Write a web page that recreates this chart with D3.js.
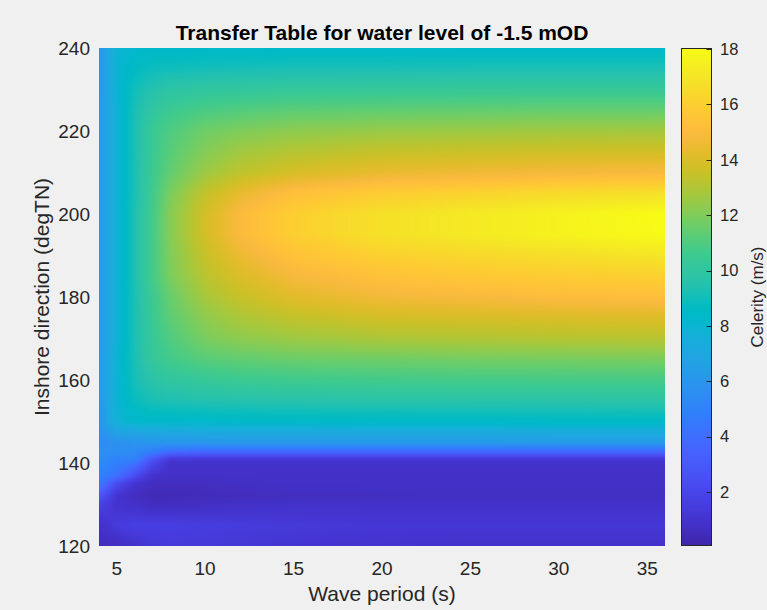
<!DOCTYPE html>
<html>
<head>
<meta charset="utf-8">
<script src="https://cdn.jsdelivr.net/npm/d3@7"></script>
<style>
  body { margin: 0; background: #f0f0f0; }
  svg { display: block; }
  text { font-family: "Liberation Sans", Arial, sans-serif; fill: #262626; }
</style>
</head>
<body>
<div id="chart"></div>
<script>
// wave period grid (s)
const periods = [4, 5, 6, 7, 8, 10, 12, 15, 20, 25, 30, 36];
// inshore direction grid (degTN), one celerity row per direction
const directions = [120, 125, 130, 132, 135, 137, 140, 141, 143, 145, 150, 155, 160,
  165, 170, 175, 180, 185, 190, 195, 200, 205, 210, 215, 220, 225, 230, 235, 240];
// celerity (m/s)
const celerity = [
  [0.5, 0.6, 0.9, 1.2, 1.3, 1.3, 1.2, 1.1, 1.0, 0.9, 0.9, 0.9],          // 120
  [0.8, 1.4, 1.6, 1.6, 1.6, 1.5, 1.4, 1.3, 1.2, 1.2, 1.2, 1.2],          // 125
  [1.8, 1.0, 0.8, 0.6, 0.6, 0.7, 0.8, 0.9, 0.9, 0.9, 0.9, 0.9],          // 130
  [2.8, 1.0, 0.6, 0.45, 0.45, 0.5, 0.55, 0.6, 0.65, 0.7, 0.7, 0.7],      // 132
  [4.6, 2.2, 1.0, 0.6, 0.6, 0.6, 0.7, 0.8, 0.8, 0.8, 0.8, 0.8],          // 135
  [5.0, 4.2, 2.4, 0.9, 0.8, 0.8, 0.8, 0.8, 0.8, 0.8, 0.8, 0.8],          // 137
  [5.4, 4.8, 4.3, 2.2, 0.9, 0.9, 0.9, 0.9, 0.9, 0.9, 0.9, 0.9],          // 140
  [5.5, 5.0, 5.0, 3.0, 1.4, 1.3, 1.3, 1.3, 1.3, 1.3, 1.3, 1.3],          // 141
  [5.7, 5.6, 5.5, 5.0, 4.2, 4.0, 4.0, 4.0, 4.0, 4.0, 4.0, 4.0],          // 143
  [5.4, 5.8, 5.9, 6.0, 6.1, 6.15, 6.2, 6.2, 6.25, 6.25, 6.3, 6.3],       // 145
  [5.9, 7.8, 8.2, 8.3, 8.3, 8.35, 8.4, 8.4, 8.45, 8.45, 8.5, 8.5],       // 150
  [6.1, 7.9, 8.8, 9.2, 9.3, 9.45, 9.5, 9.6, 9.65, 9.7, 9.7, 9.75],       // 155
  [6.2, 7.9, 9.1, 9.7, 10.0, 10.3, 10.5, 10.6, 10.7, 10.75, 10.8, 10.8], // 160
  [6.2, 7.9, 9.2, 10.2, 10.7, 11.2, 11.4, 11.6, 11.7, 11.8, 11.85, 11.9],// 165
  [6.2, 7.8, 9.2, 10.3, 11.0, 11.9, 12.3, 12.6, 12.9, 13.0, 13.1, 13.15],// 170
  [6.2, 7.8, 9.2, 10.4, 11.3, 12.3, 12.9, 13.4, 13.8, 13.9, 14.0, 14.1], // 175
  [6.2, 7.8, 9.2, 10.5, 11.5, 12.8, 13.5, 14.2, 14.7, 14.9, 15.1, 15.2], // 180
  [6.2, 7.8, 9.3, 10.7, 11.9, 13.2, 14.0, 14.8, 15.4, 15.7, 15.9, 16.1], // 185
  [6.2, 7.8, 9.3, 10.7, 12.0, 13.5, 14.5, 15.4, 16.1, 16.4, 16.7, 17.0], // 190
  [6.2, 7.8, 9.3, 10.7, 12.1, 13.8, 15.0, 16.0, 16.8, 17.2, 17.6, 18.0], // 195
  [6.2, 7.8, 9.3, 10.7, 12.1, 13.8, 15.0, 16.0, 16.8, 17.2, 17.6, 18.05],// 200
  [6.2, 7.8, 9.2, 10.6, 11.9, 13.4, 14.4, 15.3, 15.9, 16.2, 16.5, 16.8], // 205
  [6.2, 7.8, 9.2, 10.5, 11.4, 12.6, 13.3, 13.9, 14.4, 14.6, 14.8, 14.9], // 210
  [6.2, 7.8, 9.2, 10.4, 11.2, 12.1, 12.7, 13.1, 13.5, 13.6, 13.7, 13.8], // 215
  [6.2, 7.8, 9.2, 10.4, 11.0, 11.7, 12.0, 12.3, 12.5, 12.6, 12.7, 12.75],// 220
  [6.2, 7.8, 9.2, 10.0, 10.5, 10.9, 11.1, 11.3, 11.4, 11.45, 11.5, 11.5],// 225
  [6.1, 7.9, 9.0, 9.5, 9.8, 10.0, 10.1, 10.2, 10.25, 10.3, 10.3, 10.3],  // 230
  [6.1, 7.9, 8.6, 8.9, 9.0, 9.1, 9.15, 9.2, 9.2, 9.25, 9.25, 9.25],      // 235
  [6.0, 7.9, 8.2, 8.3, 8.3, 8.35, 8.35, 8.4, 8.4, 8.4, 8.4, 8.4]         // 240
];

const xTicks = [5, 10, 15, 20, 25, 30, 35];
const yTicks = [120, 140, 160, 180, 200, 220, 240];
const cbTicks = [2, 4, 6, 8, 10, 12, 14, 16, 18];
const cLimits = [0.05, 18.04];

// MATLAB parula colormap (64 entries)
const parula = [
  [0.2422,0.1504,0.6603],[0.2504,0.1650,0.7076],[0.2578,0.1818,0.7511],[0.2647,0.1978,0.7952],
  [0.2706,0.2147,0.8364],[0.2751,0.2342,0.8710],[0.2783,0.2559,0.8991],[0.2803,0.2782,0.9221],
  [0.2813,0.3006,0.9414],[0.2810,0.3228,0.9579],[0.2795,0.3447,0.9717],[0.2760,0.3667,0.9829],
  [0.2699,0.3892,0.9906],[0.2602,0.4123,0.9952],[0.2440,0.4358,0.9988],[0.2206,0.4603,0.9973],
  [0.1963,0.4847,0.9892],[0.1834,0.5074,0.9798],[0.1786,0.5289,0.9682],[0.1764,0.5499,0.9520],
  [0.1687,0.5703,0.9359],[0.1540,0.5902,0.9218],[0.1460,0.6091,0.9079],[0.1380,0.6276,0.8973],
  [0.1248,0.6459,0.8883],[0.1113,0.6635,0.8763],[0.0952,0.6798,0.8598],[0.0689,0.6948,0.8394],
  [0.0297,0.7082,0.8163],[0.0036,0.7203,0.7917],[0.0067,0.7312,0.7660],[0.0433,0.7411,0.7394],
  [0.0964,0.7500,0.7120],[0.1408,0.7584,0.6842],[0.1717,0.7670,0.6554],[0.1938,0.7758,0.6251],
  [0.2161,0.7843,0.5923],[0.2470,0.7918,0.5567],[0.2906,0.7973,0.5188],[0.3406,0.8008,0.4789],
  [0.3909,0.8029,0.4354],[0.4456,0.8024,0.3909],[0.5044,0.7993,0.3480],[0.5616,0.7942,0.3045],
  [0.6174,0.7876,0.2612],[0.6720,0.7793,0.2227],[0.7242,0.7698,0.1910],[0.7738,0.7598,0.1646],
  [0.8203,0.7498,0.1535],[0.8634,0.7406,0.1596],[0.9035,0.7330,0.1774],[0.9393,0.7288,0.2100],
  [0.9728,0.7298,0.2394],[0.9956,0.7434,0.2371],[0.9970,0.7659,0.2199],[0.9952,0.7893,0.2028],
  [0.9892,0.8136,0.1885],[0.9786,0.8386,0.1766],[0.9676,0.8639,0.1643],[0.9610,0.8890,0.1537],
  [0.9597,0.9135,0.1423],[0.9628,0.9373,0.1265],[0.9691,0.9606,0.1064],[0.9769,0.9839,0.0805]
].map(c => d3.rgb(c[0] * 255, c[1] * 255, c[2] * 255).formatHex());

const width = 767, height = 610;
const margin = {top: 48, right: 102, bottom: 64, left: 99};
const plotW = width - margin.left - margin.right;
const plotH = height - margin.top - margin.bottom;

const x = d3.scaleLinear().domain([4, 36]).range([margin.left, margin.left + plotW]);
const y = d3.scaleLinear().domain([120, 240]).range([margin.top + plotH, margin.top]);
const color = d3.scaleSequential(d3.piecewise(d3.interpolateRgb, parula))
  .domain(cLimits).clamp(true);

const svg = d3.select("#chart").append("svg")
  .attr("width", width)
  .attr("height", height);

// locate a value in a grid: index of lower node and fraction
function locate(arr, v) {
  let i = d3.bisectRight(arr, v) - 1;
  i = Math.max(0, Math.min(arr.length - 2, i));
  const t = Math.max(0, Math.min(1, (v - arr[i]) / (arr[i + 1] - arr[i])));
  return [i, t];
}

// interpolated surface (like shading interp)
const canvas = document.createElement("canvas");
canvas.width = plotW;
canvas.height = plotH;
const ctx = canvas.getContext("2d");
const img = ctx.createImageData(plotW, plotH);
for (let j = 0; j < plotH; j++) {
  const [r, tr] = locate(directions, y.invert(margin.top + j + 0.5));
  for (let i = 0; i < plotW; i++) {
    const [c, tc] = locate(periods, x.invert(margin.left + i + 0.5));
    const v0 = celerity[r][c] * (1 - tc) + celerity[r][c + 1] * tc;
    const v1 = celerity[r + 1][c] * (1 - tc) + celerity[r + 1][c + 1] * tc;
    const col = d3.rgb(color(v0 * (1 - tr) + v1 * tr));
    const k = (j * plotW + i) * 4;
    img.data[k] = col.r;
    img.data[k + 1] = col.g;
    img.data[k + 2] = col.b;
    img.data[k + 3] = 255;
  }
}
ctx.putImageData(img, 0, 0);

svg.append("image")
  .attr("x", margin.left)
  .attr("y", margin.top)
  .attr("width", plotW)
  .attr("height", plotH)
  .attr("preserveAspectRatio", "none")
  .attr("href", canvas.toDataURL());

// tick labels
svg.append("g")
  .selectAll("text")
  .data(xTicks)
  .join("text")
  .attr("x", d => x(d))
  .attr("y", margin.top + plotH + 29)
  .attr("text-anchor", "middle")
  .style("font-size", "19px")
  .text(d => d);

svg.append("g")
  .selectAll("text")
  .data(yTicks)
  .join("text")
  .attr("x", margin.left - 9)
  .attr("y", d => y(d))
  .attr("dy", "0.35em")
  .attr("text-anchor", "end")
  .style("font-size", "19px")
  .text(d => d);

// axis labels and title
svg.append("text")
  .attr("x", margin.left + plotW / 2)
  .attr("y", 601)
  .attr("text-anchor", "middle")
  .style("font-size", "21px")
  .text("Wave period (s)");

svg.append("text")
  .attr("transform", `translate(49,${margin.top + plotH / 2}) rotate(-90)`)
  .attr("text-anchor", "middle")
  .style("font-size", "21px")
  .text("Inshore direction (degTN)");

svg.append("text")
  .attr("x", margin.left + plotW / 2)
  .attr("y", 40)
  .attr("text-anchor", "middle")
  .style("font-size", "21px")
  .style("font-weight", "bold")
  .style("fill", "#000")
  .text("Transfer Table for water level of -1.5 mOD");

// colorbar
const cbX = 681, cbW = 30;
const cb = d3.scaleLinear().domain(cLimits).range([margin.top + plotH, margin.top]);

const grad = svg.append("defs").append("linearGradient")
  .attr("id", "parula")
  .attr("x1", 0).attr("y1", 1).attr("x2", 0).attr("y2", 0);
grad.selectAll("stop")
  .data(parula)
  .join("stop")
  .attr("offset", (d, i) => i / (parula.length - 1))
  .attr("stop-color", d => d);

svg.append("rect")
  .attr("x", cbX + 0.5)
  .attr("y", cb(cLimits[1]) + 0.5)
  .attr("width", cbW)
  .attr("height", cb(cLimits[0]) - cb(cLimits[1]) - 1)
  .attr("fill", "url(#parula)")
  .attr("stroke", "#262626")
  .attr("stroke-width", 1);

const cbAxis = svg.append("g");
cbAxis.selectAll("line")
  .data(cbTicks)
  .join("line")
  .attr("x1", cbX + cbW + 0.5)
  .attr("x2", cbX + cbW - 4.5)
  .attr("y1", d => Math.round(cb(d)) + 0.5)
  .attr("y2", d => Math.round(cb(d)) + 0.5)
  .attr("stroke", "#262626");
cbAxis.selectAll("text")
  .data(cbTicks)
  .join("text")
  .attr("x", cbX + cbW + 9)
  .attr("y", d => cb(d))
  .attr("dy", "0.35em")
  .style("font-size", "16.5px")
  .text(d => d);

svg.append("text")
  .attr("transform", `translate(763,${margin.top + plotH / 2}) rotate(-90)`)
  .attr("text-anchor", "middle")
  .style("font-size", "17px")
  .text("Celerity (m/s)");
</script>
</body>
</html>
